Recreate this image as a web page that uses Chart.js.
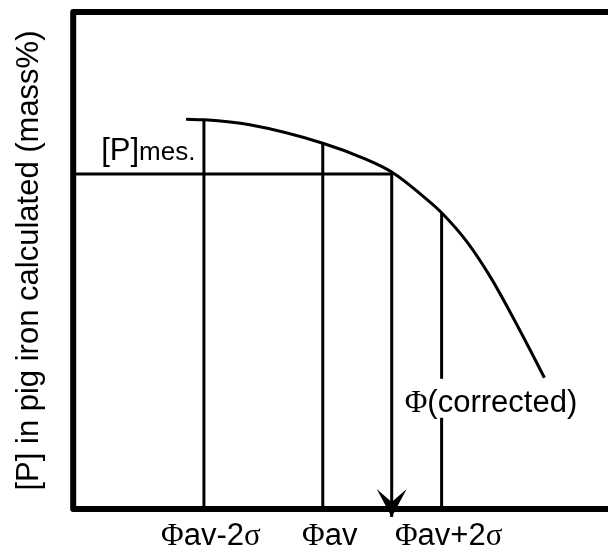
<!DOCTYPE html>
<html>
<head>
<meta charset="utf-8">
<script src="https://cdn.jsdelivr.net/npm/chart.js@4.4.1/dist/chart.umd.min.js"></script>
<style>
  html, body { margin: 0; padding: 0; background: #fff; overflow: hidden; }
  canvas { display: block; }
</style>
</head>
<body>
<canvas id="chart" width="608" height="549"></canvas>
<script>
// Φ in units of σ around Φav, [P] in arbitrary units
const X_MIN = -4.2;
const X_MAX = 4.8;
const Y_MIN = 0;
const Y_MAX = 10;

// calculated [P] against Φ
const curveX = [-2.30, -1.99, -1.23, 0, 0.68, 1.16, 1.76, 2.0, 2.43, 2.82, 3.19, 3.49, 3.73];
const curveY = [7.84, 7.83, 7.73, 7.36, 7.06, 6.78, 6.22, 5.96, 5.37, 4.67, 3.88, 3.20, 2.64];

// reference lines at Φav-2σ, Φav, Φav+2σ
const tickValues = [-2, 0, 2];
const tickLabels = ['Φav-2σ', 'Φav', 'Φav+2σ'];
const tickTops = [7.83, 7.36, 5.96];

// measured [P] and the Φ it maps back to
const pMeasured = 6.74;
const phiCorrected = 1.16;
const correctedTop = 6.78;
const arrowTip = -0.16;

const SANS = '"Liberation Sans", Arial, sans-serif';
const SERIF = '"Liberation Serif", "Times New Roman", serif';

const lineStyle = {
  showLine: true,
  borderColor: '#000',
  borderWidth: 3,
  pointRadius: 0,
  fill: false,
};

const datasets = [
  {
    ...lineStyle,
    label: 'curve',
    data: curveX.map((x, i) => ({ x, y: curveY[i] })),
    cubicInterpolationMode: 'monotone',
  },
  ...tickValues.map((v, i) => ({
    ...lineStyle,
    label: tickLabels[i],
    data: [{ x: v, y: Y_MIN }, { x: v, y: tickTops[i] }],
  })),
  {
    ...lineStyle,
    label: 'mes',
    data: [{ x: X_MIN, y: pMeasured }, { x: phiCorrected, y: pMeasured }],
  },
  {
    ...lineStyle,
    label: 'arrow',
    data: [{ x: phiCorrected, y: correctedTop }, { x: phiCorrected, y: arrowTip }],
    clip: false,
  },
];

// text with Greek letters set in serif, the rest in sans
function drawRich(ctx, text, x, y, size, align) {
  const parts = text.split(/([Φσ])/).filter(s => s.length);
  const fontOf = s => (/[Φσ]/.test(s) ? SERIF : SANS);
  let total = 0;
  parts.forEach(p => { ctx.font = `${size}px ${fontOf(p)}`; total += ctx.measureText(p).width; });
  let cx = align === 'center' ? x - total / 2 : x;
  ctx.textAlign = 'left';
  ctx.textBaseline = 'alphabetic';
  parts.forEach(p => {
    ctx.font = `${size}px ${fontOf(p)}`;
    ctx.fillText(p, cx, y);
    cx += ctx.measureText(p).width;
  });
  return total;
}

const annotations = {
  id: 'annotations',
  afterDatasetsDraw(chart) {
    const { ctx, chartArea: a, scales: { x, y } } = chart;
    ctx.save();
    ctx.fillStyle = '#000';
    ctx.strokeStyle = '#000';

    // arrowhead at the end of the corrected-Φ line
    const arrowMeta = chart.getDatasetMeta(datasets.length - 1);
    const tip = arrowMeta.data[1];
    ctx.beginPath();
    ctx.moveTo(tip.x, tip.y);
    ctx.lineTo(tip.x + 15, tip.y - 28);
    ctx.lineTo(tip.x, tip.y - 15);
    ctx.lineTo(tip.x - 15, tip.y - 28);
    ctx.closePath();
    ctx.fill();

    // open frame: left, top and bottom
    ctx.lineWidth = 6;
    ctx.lineJoin = 'round';
    ctx.beginPath();
    ctx.moveTo(a.right + 10, a.top);
    ctx.lineTo(a.left, a.top);
    ctx.lineTo(a.left, a.bottom);
    ctx.lineTo(a.right + 10, a.bottom);
    ctx.stroke();

    // [P]mes. above the measured line
    const my = y.getPixelForValue(pMeasured) - 14;
    ctx.textAlign = 'left';
    ctx.textBaseline = 'alphabetic';
    ctx.font = `31px ${SANS}`;
    const mx = a.left + 28;
    ctx.fillText('[P]', mx, my);
    const w = ctx.measureText('[P]').width;
    ctx.font = `26px ${SANS}`;
    ctx.fillText('mes.', mx + w, my);

    // Φ(corrected) label on a white box
    const last = chart.getDatasetMeta(0).data[curveX.length - 1];
    const lx = x.getPixelForValue(phiCorrected) + 13;
    const boxTop = last.y + 1;
    ctx.font = `31px ${SANS}`;
    const lw = ctx.measureText('(corrected)').width + 24;
    ctx.fillStyle = '#fff';
    ctx.fillRect(lx - 4, boxTop, lw + 8, 39);
    ctx.fillStyle = '#000';
    drawRich(ctx, 'Φ(corrected)', lx, boxTop + 33, 31, 'left');

    // tick labels under the axis
    tickValues.forEach((v, i) => {
      drawRich(ctx, tickLabels[i], x.getPixelForValue(v) + 7, a.bottom + 36, 31, 'center');
    });
    ctx.restore();
  }
};

new Chart(document.getElementById('chart'), {
  type: 'scatter',
  data: { datasets },
  options: {
    responsive: false,
    animation: false,
    events: [],
    layout: { padding: { top: 12, right: 0, bottom: 40, left: 0 } },
    plugins: {
      legend: { display: false },
      tooltip: { enabled: false },
    },
    scales: {
      x: {
        type: 'linear',
        display: false,
        min: X_MIN,
        max: X_MAX,
      },
      y: {
        type: 'linear',
        min: Y_MIN,
        max: Y_MAX,
        ticks: { display: false },
        grid: { display: false, drawTicks: false },
        border: { display: false },
        title: {
          display: true,
          text: '[P] in pig iron calculated (mass%)',
          color: '#000',
          font: { family: SANS, size: 31 },
          padding: { top: 11, bottom: 25 },
        },
      },
    },
  },
  plugins: [annotations],
});
</script>
</body>
</html>
